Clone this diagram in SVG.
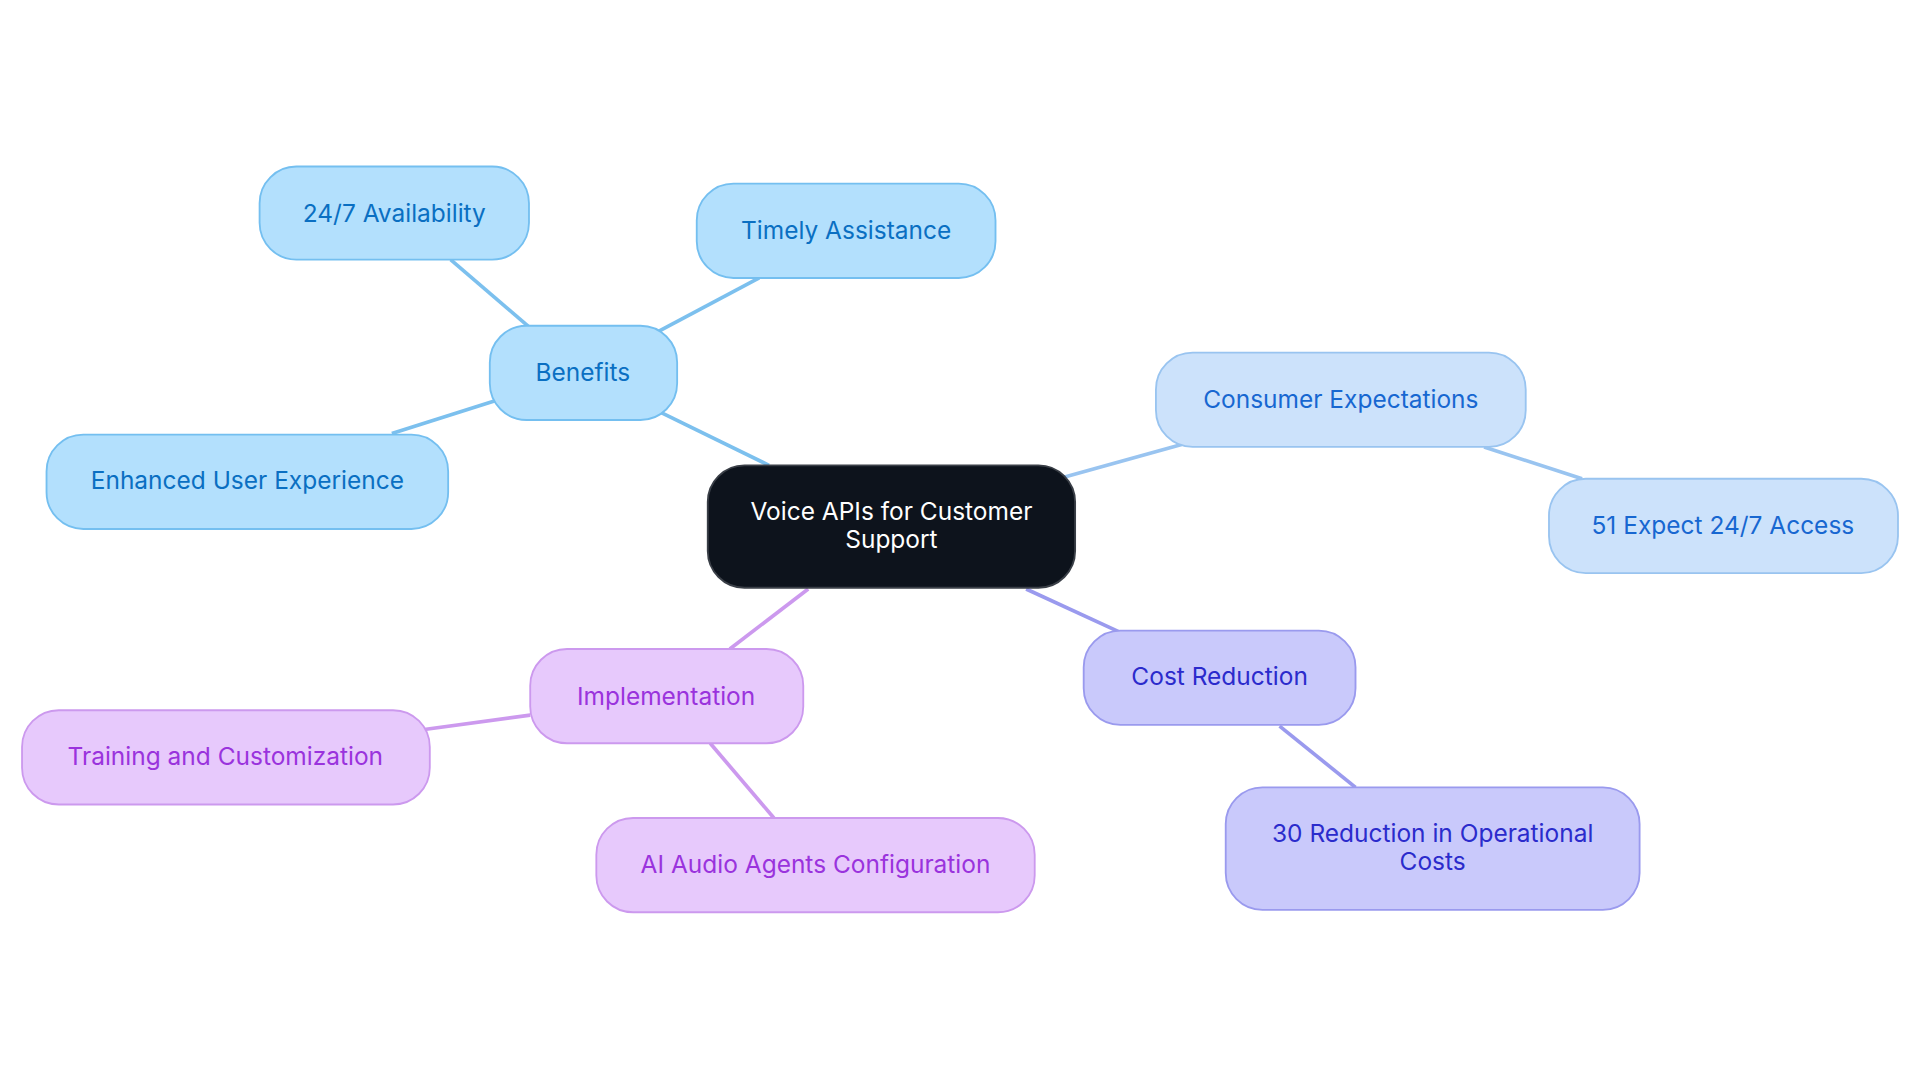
<svg xmlns="http://www.w3.org/2000/svg" width="1920" height="1083" viewBox="0 0 1920 1083">
<style>
text{font-family:Inter,"Noto Sans","Liberation Sans",sans-serif;font-size:20px;text-anchor:middle;dominant-baseline:central}
.b rect{fill:#b3e0fd;stroke:#74bff0;stroke-width:1.5}.b text{fill:#0a6fc2}
.c rect{fill:#cce2fb;stroke:#99c4f0;stroke-width:1.5}.c text{fill:#1767d1}
.p rect{fill:#c9c9fb;stroke:#9a9aee;stroke-width:1.5}.p text{fill:#2b2bcc}
.v rect{fill:#e7c9fc;stroke:#cc99ee;stroke-width:1.5}.v text{fill:#9a33dd}
#edges line{stroke-width:3;fill:none}
</style>
<rect width="1920" height="1083" fill="#fff"/>
<g transform="scale(1.2245)">
<g id="edges">
<line x1="628" y1="380" x2="540" y2="337" stroke="#7cc0ee"/>
<line x1="432" y1="267" x2="368" y2="212" stroke="#7cc0ee"/>
<line x1="537" y1="271" x2="620" y2="227" stroke="#7cc0ee"/>
<line x1="405" y1="327" x2="320" y2="354" stroke="#7cc0ee"/>
<line x1="868" y1="390" x2="965" y2="363" stroke="#99c4f0"/>
<line x1="1212" y1="365" x2="1292" y2="391" stroke="#99c4f0"/>
<line x1="838" y1="481" x2="914" y2="516" stroke="#9a9aee"/>
<line x1="1045" y1="593" x2="1107" y2="643" stroke="#9a9aee"/>
<line x1="660" y1="481" x2="596" y2="530" stroke="#cc99ee"/>
<line x1="433" y1="584" x2="345" y2="596" stroke="#cc99ee"/>
<line x1="580" y1="607" x2="632" y2="668" stroke="#cc99ee"/>
</g>
<g id="center"><rect x="578" y="380" width="300" height="100" rx="30" fill="#0d131c" stroke="#3a3f47" stroke-width="1.5"/><text x="728" y="417" fill="#fff">Voice APIs for Customer</text><text x="728" y="440" fill="#fff">Support</text></g>
<g id="benefits" class="b"><rect x="400" y="266" width="153" height="77" rx="30"/><text x="476" y="304">Benefits</text></g>
<g id="avail" class="b"><rect x="212" y="136" width="220" height="76" rx="30"/><text x="322" y="174">24/7 Availability</text></g>
<g id="timely" class="b"><rect x="569" y="150" width="244" height="77" rx="30"/><text x="691" y="188">Timely Assistance</text></g>
<g id="enhanced" class="b"><rect x="38" y="355" width="328" height="77" rx="30"/><text x="202" y="392">Enhanced User Experience</text></g>
<g id="consumer" class="c"><rect x="944" y="288" width="302" height="77" rx="30"/><text x="1095" y="326">Consumer Expectations</text></g>
<g id="expect" class="c"><rect x="1265" y="391" width="285" height="77" rx="30"/><text x="1407" y="429">51 Expect 24/7 Access</text></g>
<g id="cost" class="p"><rect x="885" y="515" width="222" height="77" rx="30"/><text x="996" y="552">Cost Reduction</text></g>
<g id="reduction" class="p"><rect x="1001" y="643" width="338" height="100" rx="30"/><text x="1170" y="680">30 Reduction in Operational</text><text x="1170" y="703">Costs</text></g>
<g id="impl" class="v"><rect x="433" y="530" width="223" height="77" rx="30"/><text x="544" y="568">Implementation</text></g>
<g id="training" class="v"><rect x="18" y="580" width="333" height="77" rx="30"/><text x="184" y="617">Training and Customization</text></g>
<g id="ai" class="v"><rect x="487" y="668" width="358" height="77" rx="30"/><text x="666" y="706">AI Audio Agents Configuration</text></g>
</g>
</svg>
